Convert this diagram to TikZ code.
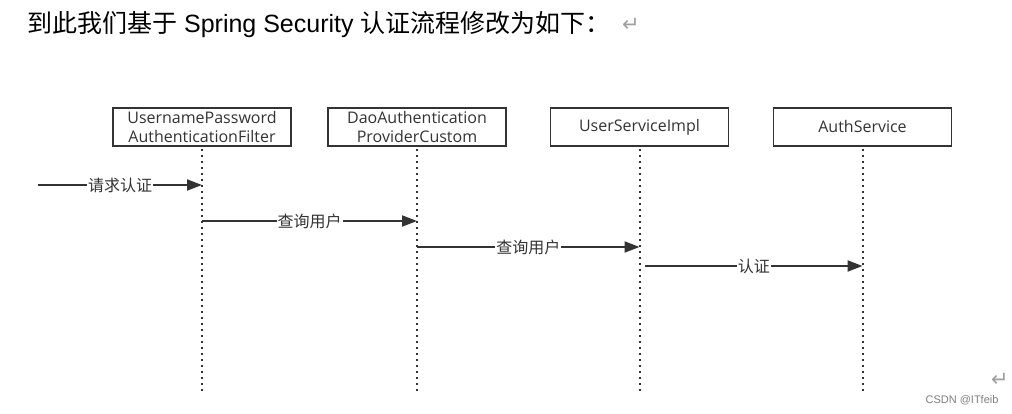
\documentclass[tikz,border=0pt]{standalone}
\usepackage{fontspec}
\setmainfont{Liberation Sans}
\newfontfamily\cjk{Noto Sans CJK SC}
\newfontfamily\boxfont{Open Sans}
\newfontfamily\symfont{DejaVu Sans}
\usetikzlibrary{arrows.meta}
\definecolor{ink}{HTML}{333333}
\tikzset{
  actor/.style={draw=ink, line width=1.6pt, minimum width=178pt, minimum height=38pt, inner sep=0pt, align=center, font=\boxfont\fontsize{16}{19.5}\selectfont, text=ink},
  life/.style={draw=ink, line width=2pt, dash pattern=on 2pt off 4pt},
  msg/.style={draw=ink, line width=2pt, -{Triangle[length=15pt,width=11pt]}},
  lbl/.style={fill=white, inner sep=1pt, font=\cjk\fontsize{16}{16}\selectfont, text=ink},
  retmark/.style={inner sep=0pt, font=\symfont\fontsize{21}{21}\selectfont, text=gray!75},
}
\begin{document}
\begin{tikzpicture}[x=1pt,y=-1pt]
\useasboundingbox[fill=white] (0,0) rectangle (1012,414);
\node[anchor=west, inner sep=0pt, font=\fontsize{25}{25}\selectfont] (title) at (27,25) {{\cjk 到此我们基于} Spring Security {\cjk 认证流程修改为如下：}};
\node[retmark] (tret) at (631,25) {↵};

\node[actor] (a1) at (202,127) {UsernamePassword\\AuthenticationFilter};
\node[actor] (a2) at (417,127) {DaoAuthentication\\ProviderCustom};
\node[actor] (a3) at (639.5,127) {\raisebox{-1.5pt}{UserServiceImpl}};
\node[actor] (a4) at (862.5,127) {\raisebox{-1.5pt}{AuthService}};

\coordinate (e1) at (202,392);
\coordinate (e2) at (417,392);
\coordinate (e3) at (639.5,392);
\coordinate (e4) at (862.5,392);
\foreach \i in {1,2,3,4} \draw[life] (a\i.south) ++(0,2) -- (e\i);

\coordinate (s0) at (38,185);
\coordinate (t1) at (202,185);
\draw[msg] (s0) -- node[lbl, pos=0.5] (l1) {请求认证} (t1);

\coordinate (s2) at (202,221);
\coordinate (t2) at (417,221);
\draw[msg] (s2) -- node[lbl] (l2) {查询用户} (t2);

\coordinate (s3) at (417,247);
\coordinate (t3) at (639.5,247);
\draw[msg] (s3) -- node[lbl] (l3) {查询用户} (t3);

\coordinate (s4) at (645,266);
\coordinate (t4) at (862.5,266);
\draw[msg] (s4) -- node[lbl] (l4) {认证} (t4);

\node[retmark] (ret) at (1000,380) {↵};
\node[font=\fontsize{11}{11}\selectfont, text=gray, anchor=east] (csdn) at (1002,400) {CSDN @ITfeib};
\end{tikzpicture}
\end{document}
